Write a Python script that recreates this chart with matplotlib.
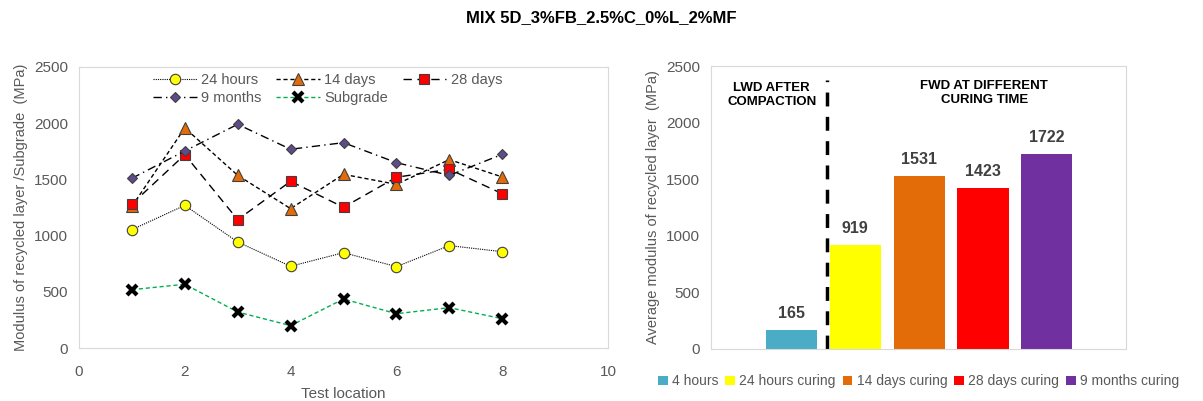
import numpy as np
import matplotlib
matplotlib.use("Agg")
import matplotlib.pyplot as plt
from matplotlib import font_manager

names = set(f.name for f in font_manager.fontManager.ttflist)
narrow = 'Liberation Sans Narrow' if 'Liberation Sans Narrow' in names else 'Liberation Sans'
plt.rcParams['font.family'] = [narrow, 'DejaVu Sans']

# left chart data
locations = [1, 2, 3, 4, 5, 6, 7, 8]
hours_24 = [1053, 1269, 943, 727, 848, 724, 911, 857]
days_14 = [1260, 1958, 1536, 1240, 1545, 1456, 1676, 1522]
days_28 = [1281, 1720, 1142, 1483, 1252, 1519, 1590, 1373]
months_9 = [1510, 1753, 1990, 1768, 1827, 1649, 1536, 1723]
subgrade = [519, 567, 320, 199, 436, 305, 359, 261]

# right chart data
bar_labels = ['4 hours', '24 hours curing', '14 days curing', '28 days curing', '9 months curing']
bar_values = [165, 919, 1531, 1423, 1722]
bar_colors = ['#4BACC6', '#FFFF00', '#E36C09', '#FF0000', '#7030A0']

gray = '#595959'
spine = '#D9D9D9'

fig = plt.figure(figsize=(12.03, 4.01), dpi=100)
ax1 = fig.add_axes([79/1203, 1-348/401, (608-79)/1203, (348-67)/401])
ax2 = fig.add_axes([711/1203, 1-349/401, (1126-711)/1203, (349-66)/401])

fig.text(0.5, 1-18/401, 'MIX 5D_3%FB_2.5%C_0%L_2%MF', ha='center', va='center',
         fontsize=12, fontweight='bold', color='black')

# left: modulus per test location
h1, = ax1.plot(locations, hours_24, color='black', lw=0.8, linestyle=(0, (1, 1)),
               marker='o', ms=7.5, mfc='#FFFF00', mec='#404040', mew=0.8, label='24 hours')
h2, = ax1.plot(locations, days_14, color='black', lw=1, linestyle=(0, (3, 2)),
               marker='^', ms=8, mfc='#E36C09', mec='#404040', mew=0.8, label='14 days')
h3, = ax1.plot(locations, days_28, color='black', lw=1, linestyle=(0, (6, 4)),
               marker='s', ms=7.5, mfc='#FF0000', mec='#404040', mew=0.8, label='28 days')
h4, = ax1.plot(locations, months_9, color='black', lw=1, linestyle=(0, (6, 3, 1, 3)),
               marker='D', ms=5.5, mfc='#5F4B8B', mec='#404040', mew=0.8, label='9 months')
h5, = ax1.plot(locations, subgrade, color='#00B050', lw=1, linestyle=(0, (3, 2)),
               marker='x', ms=7, mec='black', mew=3, label='Subgrade')

ax1.set_xlim(0, 10)
ax1.set_ylim(0, 2500)
ax1.set_xticks([0, 2, 4, 6, 8, 10])
ax1.set_yticks([0, 500, 1000, 1500, 2000, 2500])
ax1.set_xlabel('Test location', color=gray, fontsize=11, labelpad=6)
ax1.set_ylabel('Modulus of recycled layer /Subgrade  (MPa)', color=gray, fontsize=10.5, labelpad=4)
ax1.tick_params(axis='x', pad=12)
ax1.legend(handles=[h1, h4, h2, h5, h3], ncol=3, frameon=False, loc='upper center',
           bbox_to_anchor=(0.47, 1.025), fontsize=10.5, labelcolor=gray,
           handlelength=3.0, columnspacing=1.0, handletextpad=0.3, labelspacing=0.25)

# right: average modulus
xpos = np.arange(len(bar_values))
bars = ax2.bar(xpos, bar_values, width=0.8, color=bar_colors)
for x, v in zip(xpos, bar_values):
    ax2.text(x, v + 80, str(v), ha='center', va='bottom', fontsize=11.5,
             fontweight='bold', color='#404040')
ax2.set_xlim(-1.26, 5.24)
ax2.set_ylim(0, 2500)
ax2.set_xticks([])
ax2.set_yticks([0, 500, 1000, 1500, 2000, 2500])
ax2.set_ylabel('Average modulus of recycled layer  (MPa)', color=gray, fontsize=10.5, labelpad=4)
ax2.plot([0.55, 0.55], [0, 2380], color='black', lw=2.5, linestyle=(0, (4, 3)))
ax2.text(-0.31, 2244, 'LWD AFTER\nCOMPACTION', ha='center', va='center',
         fontsize=9.5, fontweight='bold', color='black', linespacing=1.2)
ax2.text(3.02, 2264, 'FWD AT DIFFERENT\nCURING TIME', ha='center', va='center',
         fontsize=9.5, fontweight='bold', color='black', linespacing=1.2)
ax2.legend(bars, bar_labels, ncol=5, frameon=False, loc='upper center',
           bbox_to_anchor=(0.5, -0.045), fontsize=10, labelcolor=gray,
           handlelength=0.7, handleheight=0.7, handletextpad=0.3, columnspacing=0.5)

for ax in (ax1, ax2):
    for s in ax.spines.values():
        s.set_color(spine)
    ax.tick_params(length=0, labelsize=11, labelcolor=gray)
ax1.tick_params(axis='y', pad=8)
ax2.tick_params(axis='y', pad=8)

fig.savefig('out.png', dpi=100)
